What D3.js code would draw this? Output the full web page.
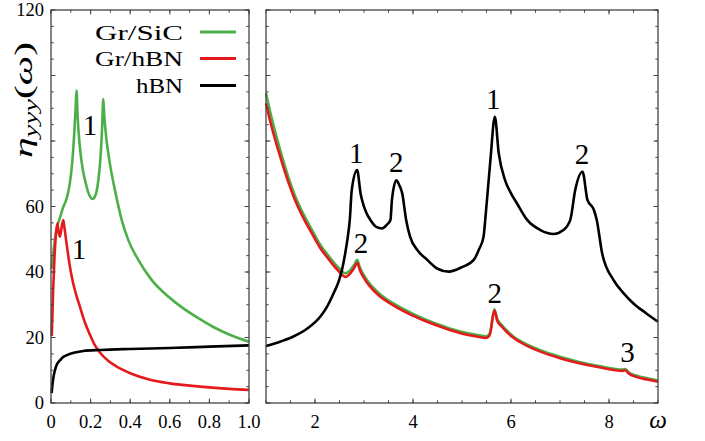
<!DOCTYPE html>
<html>
<head>
<meta charset="utf-8">
<title>eta_yyy</title>
<style>
    html, body {
        margin: 0;
        background: #fff;
    }

    .frame {
        fill: none;
        stroke: #444;
        stroke-width: 1.3px;
    }

    .tick line {
        stroke: #444;
        stroke-width: 1px;
    }

    .curve {
        fill: none;
        stroke-width: 2.6px;
        stroke-linejoin: round;
    }
</style>
</head>
<body>
<script src="https://cdn.jsdelivr.net/npm/d3@7"></script>
<script>

    // ---- data: low frequency panel (omega 0..1) ----
    const sicLow = [[0.003, 41], [0.01, 45], [0.02, 50], [0.03, 53.5], [0.045, 56.5], [0.06, 59.5], [0.079, 62.5],
        [0.095, 67], [0.108, 74], [0.118, 83], [0.125, 91], [0.129, 95.4], [0.134, 88], [0.146, 78], [0.16, 71.5],
        [0.172, 68], [0.19, 64], [0.21, 62.3], [0.225, 63.5], [0.239, 68], [0.25, 75], [0.258, 84], [0.264, 92.8],
        [0.27, 87], [0.281, 80], [0.29, 76], [0.303, 71.1], [0.323, 65], [0.357, 55.9], [0.39, 49.8], [0.441, 43.7],
        [0.508, 37.6], [0.592, 32.5], [0.67, 28.8], [0.744, 25.9], [0.82, 23.2], [0.9, 20.9], [1.0, 18.7]];
    const grHbnLow = [[0.004, 20.5], [0.01, 33], [0.018, 45], [0.025, 51.5], [0.032, 54.9], [0.038, 52.5],
        [0.045, 50.8], [0.052, 53], [0.062, 55.9], [0.068, 53.5], [0.079, 48.5], [0.092, 43], [0.105, 38.5],
        [0.125, 33.5], [0.146, 29.4], [0.17, 24.8], [0.197, 20.8], [0.22, 17.8], [0.247, 15.4], [0.29, 12.8],
        [0.332, 11.1], [0.4, 9.1], [0.5, 7.1], [0.6, 6], [0.753, 5], [0.9, 4.3], [1.0, 4]];
    const hbnLow = [[0.003, 3], [0.008, 6], [0.014, 8.5], [0.02, 10], [0.03, 11.8], [0.045, 13], [0.06, 14],
        [0.08, 14.6], [0.12, 15.4], [0.163, 15.9], [0.25, 16.2], [0.4, 16.5], [0.6, 16.8], [0.8, 17.2], [1.0, 17.6]];

    // ---- data: high frequency panel (omega 1..9) ----
    const sicHigh = [[1.0, 94.6], [1.1, 88.0], [1.27, 78.3], [1.43, 70.2], [1.6, 63], [1.77, 57.5], [1.94, 52.8],
        [2.1, 48.5], [2.29, 44.7], [2.45, 41.8], [2.62, 39.6], [2.72, 40.6], [2.8, 42.2], [2.86, 43.7], [2.92, 41.2],
        [3.06, 37.6], [3.3, 33.6], [3.6, 30.4], [3.95, 27.6], [4.29, 25.3], [4.65, 23.3], [4.97, 21.8], [5.3, 20.8],
        [5.5, 20.4], [5.57, 21.4], [5.66, 28.6], [5.72, 25.6], [5.8, 24], [6.05, 20.3], [6.35, 17.7], [6.67, 15.7],
        [7.0, 14.1], [7.35, 12.7], [7.8, 11.3], [8.28, 10.2], [8.33, 10.4], [8.4, 9.4], [8.57, 8.3], [8.8, 7.5],
        [9.0, 6.9]];
    const grHbnHigh = [[1.0, 91.5], [1.1, 85.2], [1.27, 76.2], [1.43, 68.6], [1.6, 61.7], [1.77, 56.3], [1.94, 51.7],
        [2.1, 47.5], [2.29, 43.7], [2.45, 40.8], [2.62, 38.5], [2.72, 39.6], [2.8, 41.3], [2.86, 42.8], [2.92, 40.4],
        [3.06, 36.8], [3.3, 32.9], [3.6, 29.8], [3.95, 27.0], [4.29, 24.8], [4.65, 22.8], [4.97, 21.3], [5.3, 20.3],
        [5.5, 19.9], [5.57, 21.0], [5.66, 28.2], [5.72, 25.1], [5.8, 23.5], [6.05, 19.9], [6.35, 17.3], [6.67, 15.3],
        [7.0, 13.7], [7.35, 12.3], [7.8, 10.9], [8.28, 9.8], [8.33, 10.0], [8.4, 9.0], [8.57, 7.9], [8.8, 7.1],
        [9.0, 6.5]];
    const hbnHigh = [[1.0, 17.4], [1.3, 18.8], [1.56, 20.3], [1.85, 22.8], [2.11, 26.4], [2.25, 29.5], [2.38, 33.5],
        [2.48, 37], [2.55, 40.6], [2.62, 46], [2.67, 50.8], [2.71, 55.9], [2.75, 65], [2.86, 71.1], [2.93, 64],
        [2.96, 62], [3.05, 58], [3.13, 55.9], [3.25, 53.8], [3.37, 53.3], [3.47, 54.5], [3.54, 55.9], [3.57, 62],
        [3.66, 68], [3.72, 66.5], [3.78, 64], [3.86, 55.9], [3.94, 50.8], [4.1, 46.5], [4.29, 43.7], [4.5, 41],
        [4.73, 40.1], [5.0, 41.5], [5.24, 43.7], [5.35, 47], [5.44, 50.8], [5.48, 56.9], [5.58, 74.2], [5.67, 87.4],
        [5.75, 76.2], [5.88, 68], [6.0, 64], [6.12, 61], [6.33, 55.9], [6.6, 52.8], [6.87, 51.6], [7.07, 52.8],
        [7.21, 55.9], [7.31, 65], [7.46, 70.6], [7.56, 62], [7.69, 59], [7.75, 55.9], [7.86, 45.7], [8.09, 37.6],
        [8.3, 33.5], [8.5, 30.4], [8.75, 27.5], [9.0, 24.8]];

    // ---- tick labels, legend, peak labels ----
    const lowXLabels = [0, 0.2, 0.4, 0.6, 0.8, 1.0];
    const yLabels = [0, 20, 40, 60, 120];
    const highXLabels = [2, 4, 6, 8];
    const seriesNames = ["Gr/SiC", "Gr/hBN", "hBN"];
    const seriesColors = ["#4daf4a", "#e41a1c", "#000000"];
    const peaksLow = [["1", 0.197, 81.8], ["1", 0.141, 44]];
    const peaksHigh = [["1", 2.84, 73.3], ["2", 3.66, 70.5], ["1", 5.64, 89.8], ["2", 7.45, 73.0],
        ["2", 2.94, 45.9], ["2", 5.67, 30.4], ["3", 8.38, 12.6]];

    const width = 705, height = 441;
    const plotTop = 10, plotBottom = 403;
    const serif = "'Liberation Serif'";

    const svg = d3.select("body").append("svg")
        .attr("width", width)
        .attr("height", height);

    const y = d3.scaleLinear().domain([0, 120]).range([plotBottom, plotTop]);
    const xLow = d3.scaleLinear().domain([0, 1]).range([51, 249]);
    const xHigh = d3.scaleLinear().domain([1, 9]).range([266, 658]);

    function fmt(d) {
        return d === 1 ? "1.0" : String(d);
    }

    function drawTicks(g, x, xMinor, xMajor, labelsX, labelsY) {
        const x0 = x.range()[0], x1 = x.range()[1];
        const yMinor = d3.range(0, 121, 5), yMajor = d3.range(0, 121, 20);

        // bottom + top
        [[plotBottom, -1], [plotTop, 1]].forEach(([yy, dir]) => {
            const ax = g.append("g").attr("class", "tick");
            ax.selectAll("line.mn").data(xMinor).join("line")
                .attr("x1", d => x(d)).attr("x2", d => x(d))
                .attr("y1", yy).attr("y2", yy + dir * 2.7);
            ax.selectAll("line.mj").data(xMajor).join("line")
                .attr("x1", d => x(d)).attr("x2", d => x(d))
                .attr("y1", yy).attr("y2", yy + dir * 4.5);
        });
        // left + right
        [[x0, 1], [x1, -1]].forEach(([xx, dir]) => {
            const ax = g.append("g").attr("class", "tick");
            ax.selectAll("line.mn").data(yMinor).join("line")
                .attr("y1", d => y(d)).attr("y2", d => y(d))
                .attr("x1", xx).attr("x2", xx + dir * 2.7);
            ax.selectAll("line.mj").data(yMajor).join("line")
                .attr("y1", d => y(d)).attr("y2", d => y(d))
                .attr("x1", xx).attr("x2", xx + dir * 4.5);
        });

        g.append("rect").attr("class", "frame")
            .attr("x", x0).attr("y", plotTop)
            .attr("width", x1 - x0).attr("height", plotBottom - plotTop);

        g.selectAll("text.xl").data(labelsX).join("text")
            .attr("x", d => x(d)).attr("y", 428)
            .attr("text-anchor", "middle")
            .attr("font-family", serif)
            .attr("font-size", 18.5)
            .text(fmt);

        g.selectAll("text.yl").data(labelsY).join("text")
            .attr("x", x0 - 7).attr("y", d => y(d) + 6)
            .attr("text-anchor", "end")
            .attr("font-family", serif)
            .attr("font-size", 18.5)
            .text(d => d);
    }

    const line = x => d3.line()
        .x(d => x(d[0]))
        .y(d => y(d[1]))
        .curve(d3.curveMonotoneX);

    function drawPanel(x, series, peaks) {
        const g = svg.append("g");
        series.forEach((s, i) => {
            g.append("path")
                .attr("class", "curve")
                .attr("stroke", seriesColors[i])
                .attr("d", line(x)(s));
        });
        g.selectAll("text.peak").data(peaks).join("text")
            .attr("x", d => x(d[1])).attr("y", d => y(d[2]))
            .attr("text-anchor", "middle")
            .attr("font-family", serif)
            .attr("font-size", 29)
            .text(d => d[0]);
        return g;
    }

    const gLow = drawPanel(xLow, [sicLow, grHbnLow, hbnLow], peaksLow);
    drawTicks(gLow, xLow, d3.range(0, 1.01, 0.1), d3.range(0, 1.01, 0.2), lowXLabels, yLabels);

    const gHigh = drawPanel(xHigh, [sicHigh, grHbnHigh, hbnHigh], peaksHigh);
    drawTicks(gHigh, xHigh, d3.range(1, 9.01, 0.5), d3.range(2, 9, 2), highXLabels, []);

    // omega axis label
    svg.append("text")
        .attr("x", 658).attr("y", 428)
        .attr("text-anchor", "middle")
        .attr("font-family", serif)
        .attr("font-size", 25)
        .attr("font-style", "italic")
        .text("ω");

    // y axis label
    const yl = svg.append("text")
        .attr("transform", "translate(32,100) rotate(-90) scale(1.6,1)")
        .attr("text-anchor", "middle")
        .attr("font-family", serif)
        .attr("font-size", 26);
    yl.append("tspan").attr("font-style", "italic").text("η");
    yl.append("tspan").attr("font-style", "italic").attr("font-size", 18).attr("dy", 5).text("yyy");
    yl.append("tspan").attr("dy", -5).text("(");
    yl.append("tspan").attr("font-style", "italic").text("ω");
    yl.append("tspan").text(")");

    // legend
    const legendY = [32, 58.5, 85.5];
    const legendW = [88, 88, 47];
    const legend = svg.append("g");
    seriesNames.forEach((name, i) => {
        legend.append("text")
            .attr("x", 183).attr("y", legendY[i] + 7.5)
            .attr("text-anchor", "end")
            .attr("font-family", serif)
            .attr("font-size", 21.5)
            .attr("textLength", legendW[i])
            .attr("lengthAdjust", "spacingAndGlyphs")
            .text(name);
        legend.append("line")
            .attr("x1", 200).attr("x2", 236)
            .attr("y1", legendY[i]).attr("y2", legendY[i])
            .attr("stroke", seriesColors[i])
            .attr("stroke-width", 3.2);
    });

</script>
</body>
</html>
